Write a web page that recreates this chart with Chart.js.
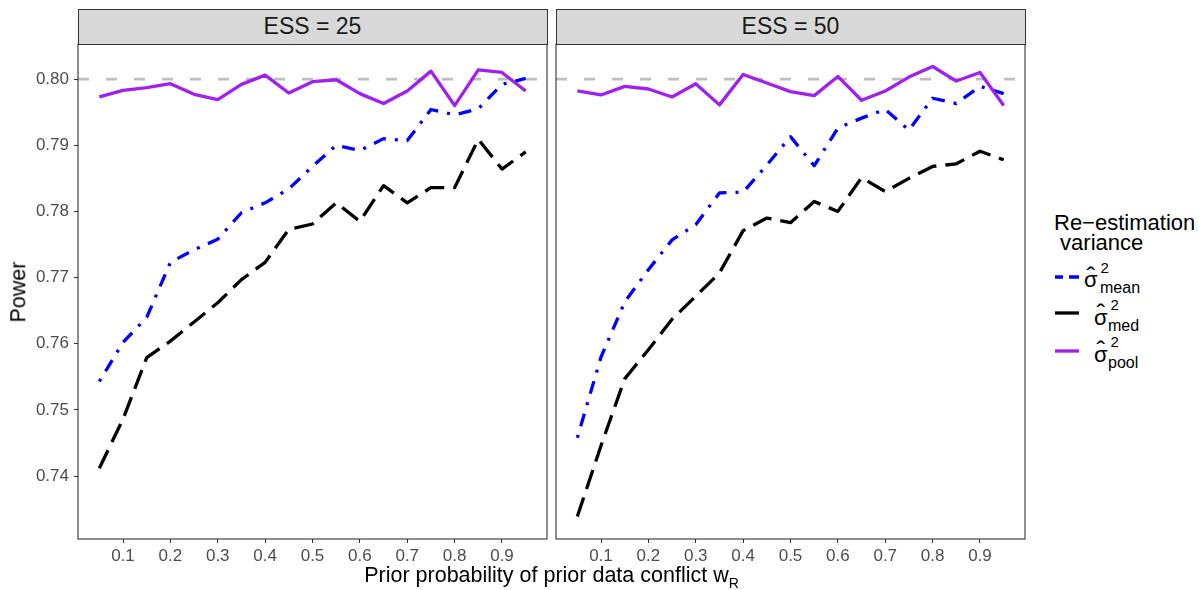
<!DOCTYPE html>
<html><head><meta charset="utf-8">
<script src="https://cdn.jsdelivr.net/npm/chart.js@4.4.1/dist/chart.umd.min.js"></script>
<style>
html,body{margin:0;padding:0;background:#fff;}
body{width:1199px;height:590px;overflow:hidden;position:relative;font-family:"Liberation Sans",Arial,sans-serif;color:#000;}
canvas.panel{position:absolute;top:0;}
.strip{position:absolute;top:8.5px;height:36px;width:470px;background:#D9D9D9;border:1.1px solid #333;box-sizing:border-box;text-align:center;font-size:23px;line-height:33px;color:#1A1A1A;}
.t{position:absolute;line-height:1;white-space:pre;}
.key{position:absolute;}
</style></head>
<body>
<canvas id="c25" class="panel" width="548" height="590" style="left:0px"></canvas>
<canvas id="c50" class="panel" width="474" height="590" style="left:552px"></canvas>
<div class="strip" style="left:77.5px">ESS = 25</div>
<div class="strip" style="left:555.5px">ESS = 50</div>
<div class="t" style="left:19px;top:292px;font-size:21.5px;transform:translate(-50%,-50%) rotate(-90deg);">Power</div>
<div class="t" style="left:551.5px;top:564.5px;font-size:21.5px;transform:translateX(-50%);">Prior probability of prior data conflict w<span style="font-size:14px;position:relative;top:6px;">R</span></div>
<div class="t" style="left:1054px;top:212.5px;font-size:22px;line-height:20px;">Re&#8722;estimation
 variance</div>
<canvas class="key" id="k1" width="28" height="10" style="left:1053px;top:272px"></canvas>
<canvas class="key" id="k2" width="28" height="10" style="left:1053px;top:308px"></canvas>
<canvas class="key" id="k3" width="28" height="10" style="left:1053px;top:346px"></canvas>
<span class="t" style="left:1084px;top:269.4px;font-size:22px;">σ</span>
<span class="t" style="left:1086.5px;top:262.5px;font-size:26px;">&#710;</span>
<span class="t" style="left:1100.5px;top:259.5px;font-size:15px;">2</span>
<span class="t" style="left:1100px;top:280px;font-size:16px;">mean</span>
<span class="t" style="left:1094px;top:306.9px;font-size:22px;">σ</span>
<span class="t" style="left:1096.5px;top:300px;font-size:26px;">&#710;</span>
<span class="t" style="left:1110.5px;top:297px;font-size:15px;">2</span>
<span class="t" style="left:1108px;top:317.5px;font-size:16px;">med</span>
<span class="t" style="left:1094px;top:343.9px;font-size:22px;">σ</span>
<span class="t" style="left:1096.5px;top:337px;font-size:26px;">&#710;</span>
<span class="t" style="left:1110.5px;top:334px;font-size:15px;">2</span>
<span class="t" style="left:1108px;top:354.5px;font-size:16px;">pool</span>
<script>
// ---- data ----
const conflictProb = [0.05,0.10,0.15,0.20,0.25,0.30,0.35,0.40,0.45,0.50,0.55,0.60,0.65,0.70,0.75,0.80,0.85,0.90,0.95];
const mean25 = [0.7543,0.7602,0.7640,0.7723,0.7742,0.7758,0.7798,0.7813,0.7834,0.7868,0.7900,0.7892,0.7910,0.7907,0.7954,0.7946,0.7955,0.7992,0.8001];
const med25  = [0.7412,0.7486,0.7579,0.7604,0.7633,0.7662,0.7697,0.7723,0.7773,0.7781,0.7813,0.7785,0.7839,0.7813,0.7836,0.7836,0.7909,0.7864,0.7890];
const pool25 = [0.7973,0.7983,0.7987,0.7993,0.7977,0.7969,0.7992,0.8006,0.7979,0.7996,0.7999,0.7978,0.7963,0.7982,0.8012,0.7960,0.8014,0.8010,0.7982];
const mean50 = [0.7458,0.7580,0.7663,0.7712,0.7757,0.7780,0.7828,0.7829,0.7870,0.7913,0.7869,0.7926,0.7941,0.7954,0.7923,0.7971,0.7963,0.7989,0.7978];
const med50  = [0.7339,0.7446,0.7547,0.7591,0.7637,0.7672,0.7707,0.7771,0.7790,0.7783,0.7815,0.7800,0.7851,0.7830,0.7850,0.7868,0.7872,0.7891,0.7878];
const pool50 = [0.7982,0.7976,0.7989,0.7985,0.7973,0.7993,0.7961,0.8007,0.7994,0.7981,0.7975,0.8004,0.7968,0.7982,0.8003,0.8019,0.7997,0.8010,0.7960];
const targetPower = 0.80;
const powerTicks = [0.74,0.75,0.76,0.77,0.78,0.79,0.80];
const probTicks = [0.1,0.2,0.3,0.4,0.5,0.6,0.7,0.8,0.9];

// ---- limits (ggplot-like 5% expansion) ----
const allY = [].concat(mean25,med25,pool25,mean50,med50,pool50);
const yLo = Math.min(...allY), yHi = Math.max(...allY);
const yMin = yLo - 0.05*(yHi-yLo), yMax = yHi + 0.05*(yHi-yLo);
const xLo = Math.min(...conflictProb), xHi = Math.max(...conflictProb);
const xMin = xLo - 0.05*(xHi-xLo), xMax = xHi + 0.05*(xHi-xLo);

const FONT = '"Liberation Sans", Arial, sans-serif';
const COL = {mean:'#0000FF', med:'#000000', pool:'#A020F0', ref:'#BEBEBE'};
const LW = 3.3;
const DASH = {mean:[3,9,13,9], med:[20,9], ref:[11,17]};

const panelBox = {id:'panelBox', afterDraw(chart){
  const {ctx, chartArea:a} = chart;
  ctx.save(); ctx.strokeStyle='#333333'; ctx.lineWidth=1.1;
  ctx.strokeRect(a.left, a.top, a.right-a.left, a.bottom-a.top);
  ctx.restore();
}};

function pts(vals){ return conflictProb.map((x,i)=>({x, y: vals[i]})); }

function makeChart(id, mean, med, pool, showY){
  const datasets = [
    {data:[{x:xMin,y:targetPower},{x:xMax,y:targetPower}], borderColor:COL.ref, borderWidth:2.8, borderDash:DASH.ref, order:4},
    {data:pts(mean), borderColor:COL.mean, borderWidth:LW, borderDash:DASH.mean, order:3},
    {data:pts(med), borderColor:COL.med, borderWidth:LW, borderDash:DASH.med, order:2},
    {data:pts(pool), borderColor:COL.pool, borderWidth:LW, order:1}
  ];
  datasets.forEach(d=>{d.pointRadius=0; d.tension=0; d.fill=false; d.borderCapStyle='butt'; d.borderJoinStyle='round';});
  return new Chart(document.getElementById(id), {
    type:'line',
    data:{datasets},
    plugins:[panelBox],
    options:{
      responsive:false, animation:false, devicePixelRatio:1,
      layout:{padding:{top:44, right:1, bottom:0, left: showY?0:4}},
      plugins:{legend:{display:false}, tooltip:{enabled:false}, title:{display:false}},
      scales:{
        x:{type:'linear', min:xMin, max:xMax,
           afterBuildTicks:s=>{s.ticks = probTicks.map(v=>({value:v}));},
           afterFit:s=>{s.height = 51;},
           ticks:{callback:v=>v.toFixed(1), font:{size:17, family:FONT}, color:'#4D4D4D', padding:3, autoSkip:false, maxRotation:0},
           grid:{display:true, drawOnChartArea:false, drawTicks:true, tickLength:4, tickColor:'#333333', tickWidth:1.1},
           border:{display:false}},
        y:{type:'linear', min:yMin, max:yMax, display:showY,
           afterBuildTicks:s=>{s.ticks = powerTicks.map(v=>({value:v}));},
           afterFit:s=>{s.width = showY ? 78 : 0;},
           ticks:{callback:v=>v.toFixed(2), font:{size:17, family:FONT}, color:'#4D4D4D', padding:5, autoSkip:false},
           grid:{display:true, drawOnChartArea:false, drawTicks:true, tickLength:4, tickColor:'#333333', tickWidth:1.1},
           border:{display:false}}
      }
    }
  });
}
makeChart('c25', mean25, med25, pool25, true);
makeChart('c50', mean50, med50, pool50, false);

// legend keys
function key(id, color, dash){
  const c = document.getElementById(id).getContext('2d');
  c.strokeStyle = color; c.lineWidth = LW; c.lineCap='butt';
  c.setLineDash(dash||[]);
  c.beginPath(); c.moveTo(2,5); c.lineTo(26,5); c.stroke();
}
key('k1', COL.mean, [8,6,11,6]);
key('k2', COL.med, null);
key('k3', COL.pool, null);
</script>
</body></html>
